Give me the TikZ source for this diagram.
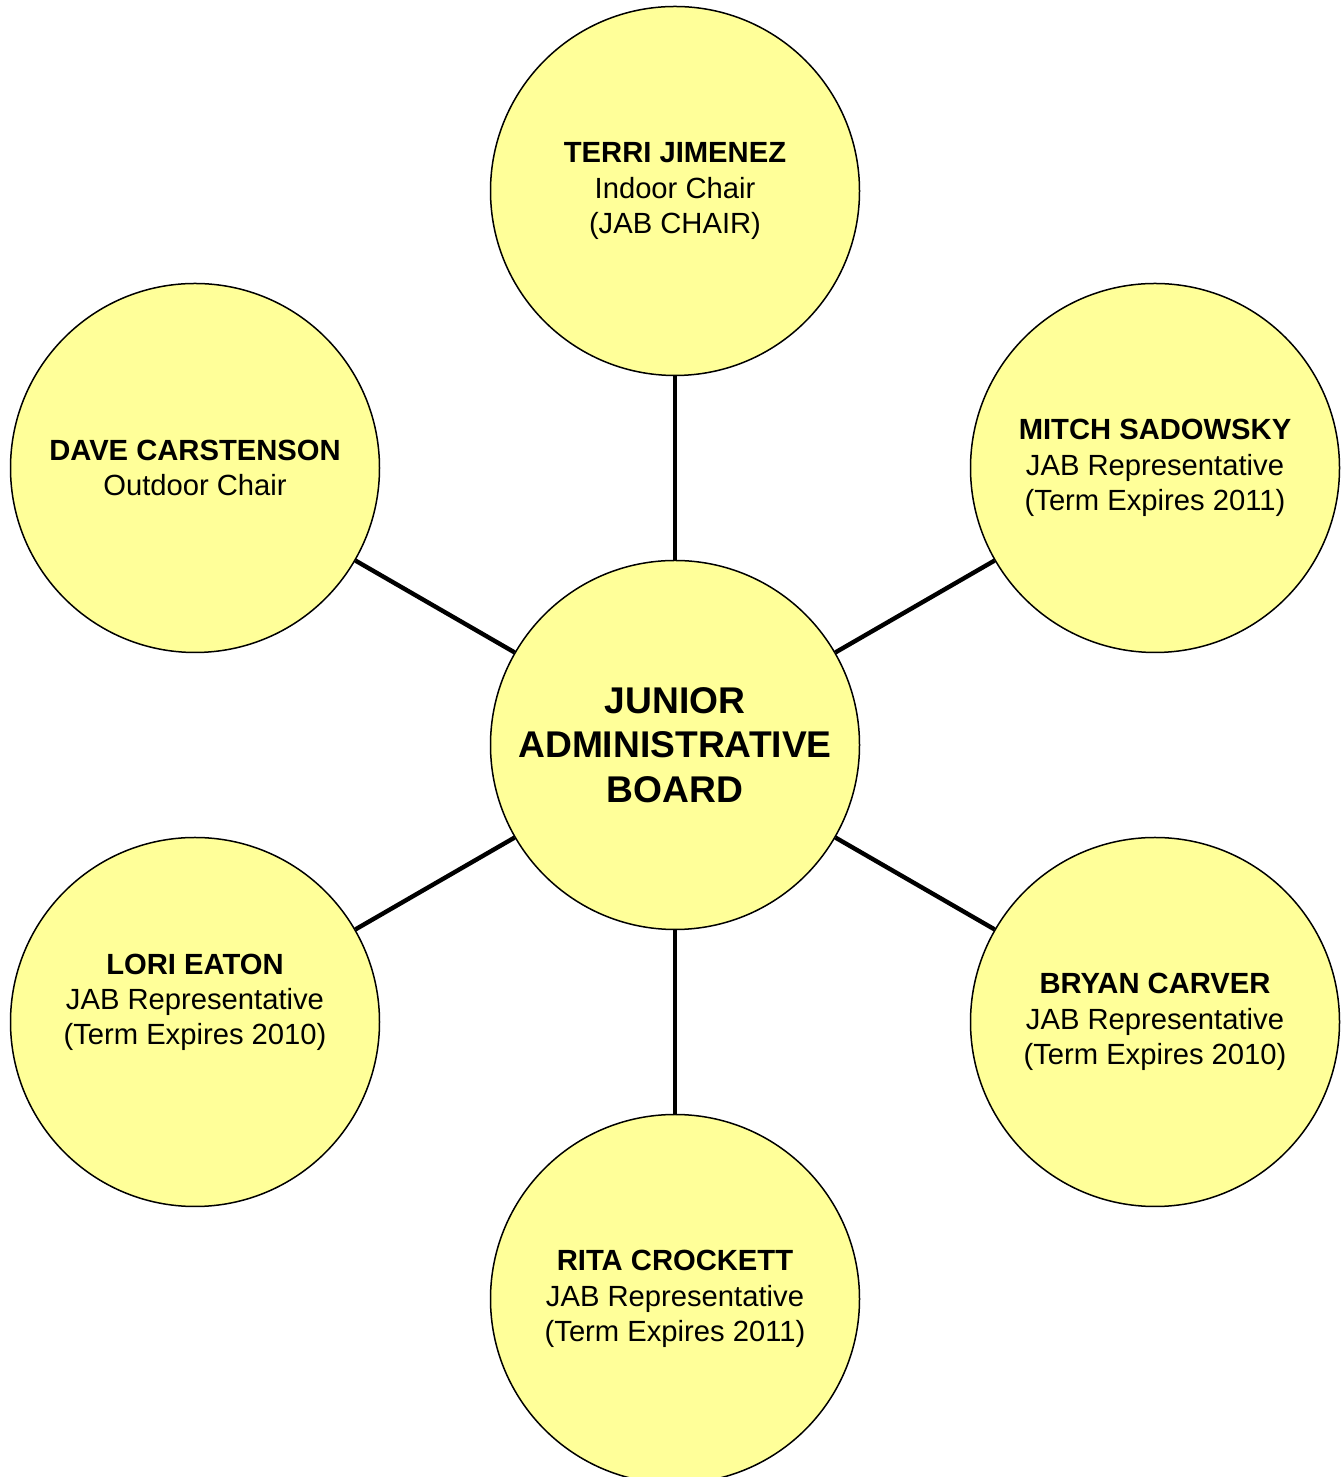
\documentclass[tikz,border=0pt]{standalone}
\usepackage{fontspec}
\setmainfont{Liberation Sans}
\definecolor{paleyellow}{HTML}{FFFF99}
\tikzset{
  member/.style={circle,draw=black,line width=0.75pt,fill=paleyellow,
    minimum size=184.5pt,inner sep=0pt,align=center,
    font=\fontsize{14.6}{17.6}\selectfont},
  board/.style={member,font=\bfseries\fontsize{18.6}{22.3}\selectfont},
  link/.style={black,line width=2.2pt}
}
\begin{document}
\begin{tikzpicture}[x=0.5pt,y=0.5pt]
  \pgfmathsetmacro\cx{675}
  \pgfmathsetmacro\cy{732}
  \pgfmathsetmacro\hstep{480}
  \pgfmathsetmacro\vstep{277}
  \useasboundingbox (0,0) rectangle (1341,1477);

% centre
  \node[board] (jab) at (\cx,\cy) {JUNIOR\\ADMINISTRATIVE\\BOARD};

% members round the ring
  \node[member] (terri) at (\cx,\cy+2*\vstep) {\textbf{TERRI JIMENEZ}\\Indoor Chair\\(JAB CHAIR)};
  \node[member] (mitch) at (\cx+\hstep,\cy+\vstep) {\textbf{MITCH SADOWSKY}\\JAB Representative\\(Term Expires 2011)};
  \node[member] (bryan) at (\cx+\hstep,\cy-\vstep) {\textbf{BRYAN CARVER}\\JAB Representative\\(Term Expires 2010)};
  \node[member] (rita) at (\cx,\cy-2*\vstep) {\textbf{RITA CROCKETT}\\JAB Representative\\(Term Expires 2011)};
  \node[member] (lori) at (\cx-\hstep,\cy-\vstep) {\textbf{LORI EATON}\\JAB Representative\\(Term Expires 2010)\\\strut};
  \node[member] (dave) at (\cx-\hstep,\cy+\vstep) {\textbf{DAVE CARSTENSON}\\Outdoor Chair};

% spokes
  \draw[link] (jab) -- (terri);
  \draw[link] (jab) -- (mitch);
  \draw[link] (jab) -- (bryan);
  \draw[link] (jab) -- (rita);
  \draw[link] (jab) -- (lori);
  \draw[link] (jab) -- (dave);

\end{tikzpicture}
\end{document}
